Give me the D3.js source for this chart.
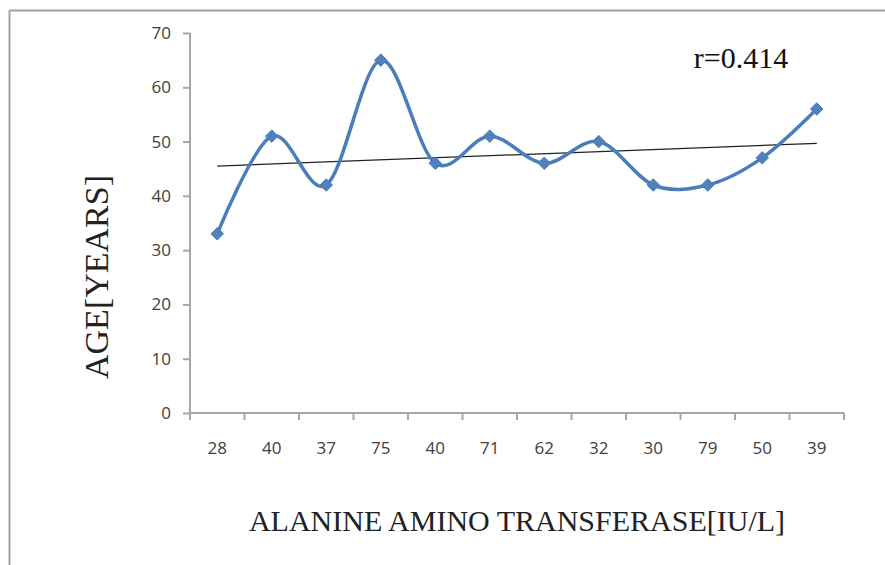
<!DOCTYPE html>
<html><head><meta charset="utf-8">
<script src="https://cdn.jsdelivr.net/npm/d3@7"></script>
<style>body{margin:0;background:#fff}</style>
</head><body>
<script>
const categories = ["28","40","37","75","40","71","62","32","30","79","50","39"];
const ages = [33,51,42,65,46,51,46,50,42,42,47,56];
const yTicks = [0,10,20,30,40,50,60,70];
const rLabel = "r=0.414";

const W = 885, H = 565;
const svg = d3.select("body").append("svg").attr("width", W).attr("height", H);

// outer frame (left & top edges visible)
svg.append("line").attr("x1",9.5).attr("y1",10.5).attr("x2",9.5).attr("y2",H).attr("stroke","#a0a0a0").attr("stroke-width",2);
svg.append("line").attr("x1",9.5).attr("y1",10.5).attr("x2",W).attr("y2",10.5).attr("stroke","#a0a0a0").attr("stroke-width",2);

const x0 = 190, x1 = 844, yTop = 33, yBot = 413;
const x = d3.scaleBand().domain(d3.range(categories.length)).range([x0, x1]);
const y = d3.scaleLinear().domain([0,70]).range([yBot, yTop]);
const axisColor = "#a6a6a6";

// y axis
const yAxis = svg.append("g").attr("transform",`translate(${x0},0)`)
  .call(d3.axisLeft(y).tickValues(yTicks).tickSize(7).tickPadding(12));
// x axis
const xAxis = svg.append("g").attr("transform",`translate(0,${yBot})`)
  .call(d3.axisBottom(x).tickFormat(i=>categories[i]).tickSize(0).tickPadding(29));
[yAxis, xAxis].forEach(g=>{
  g.select(".domain").attr("stroke",axisColor).attr("stroke-width",2);
  g.selectAll(".tick line").attr("stroke",axisColor).attr("stroke-width",2);
  g.selectAll("text").attr("fill","#404040").style("font-family","'Open Sans', 'Noto Sans', sans-serif").style("font-size","17px");
});
yAxis.select(".domain").attr("d",`M0,${yTop}V${yBot}`);
xAxis.select(".domain").attr("d",`M${x0},0H${x1}`);
// x tick marks at band boundaries
xAxis.selectAll(".bt").data(d3.range(categories.length+1)).enter().append("line")
  .attr("x1",i=>x0 + i*x.bandwidth()).attr("x2",i=>x0 + i*x.bandwidth())
  .attr("y1",0).attr("y2",7).attr("stroke",axisColor).attr("stroke-width",2);

const cx = i => x(i) + x.bandwidth()/2;

// trendline (least squares over category index)
const n = ages.length;
const idx = d3.range(1, n+1);
const mx = d3.mean(idx), my = d3.mean(ages);
const slope = d3.sum(idx, (k,j)=>(k-mx)*(ages[j]-my)) / d3.sum(idx, k=>(k-mx)*(k-mx));
const icpt = my - slope*mx;
svg.append("line")
  .attr("x1",cx(0)).attr("y1",y(icpt+slope*1))
  .attr("x2",cx(n-1)).attr("y2",y(icpt+slope*n))
  .attr("stroke","#222").attr("stroke-width",1.2);

// smoothed series
const line = d3.line().x((d,i)=>cx(i)).y(d=>y(d)).curve(d3.curveCardinal.tension(0));
svg.append("path").datum(ages).attr("d",line).attr("fill","none")
  .attr("stroke","#4a7ebb").attr("stroke-width",3.5);

// diamond markers
const sym = d3.symbol().type(d3.symbolDiamond2).size(100);
svg.selectAll(".mk").data(ages).enter().append("path")
  .attr("d",sym).attr("transform",(d,i)=>`translate(${cx(i)},${y(d)})`)
  .attr("fill","#4f81bd").attr("stroke","#4a7ebb").attr("stroke-width",1);

// texts
const serif = "'Liberation Serif', 'Times New Roman', serif";
svg.append("text").attr("x",741).attr("y",68).attr("text-anchor","middle")
  .style("font-family",serif).style("font-size","30px").attr("fill","#111").text(rLabel);
svg.append("text").attr("x",517).attr("y",531).attr("text-anchor","middle")
  .style("font-family",serif).style("font-size","30px").attr("fill","#222")
  .text("ALANINE AMINO TRANSFERASE[IU/L]");
svg.append("text").attr("transform","translate(108,277) rotate(-90)").attr("text-anchor","middle")
  .style("font-family",serif).style("font-size","34px").attr("fill","#222")
  .text("AGE[YEARS]");
</script>
</body></html>
